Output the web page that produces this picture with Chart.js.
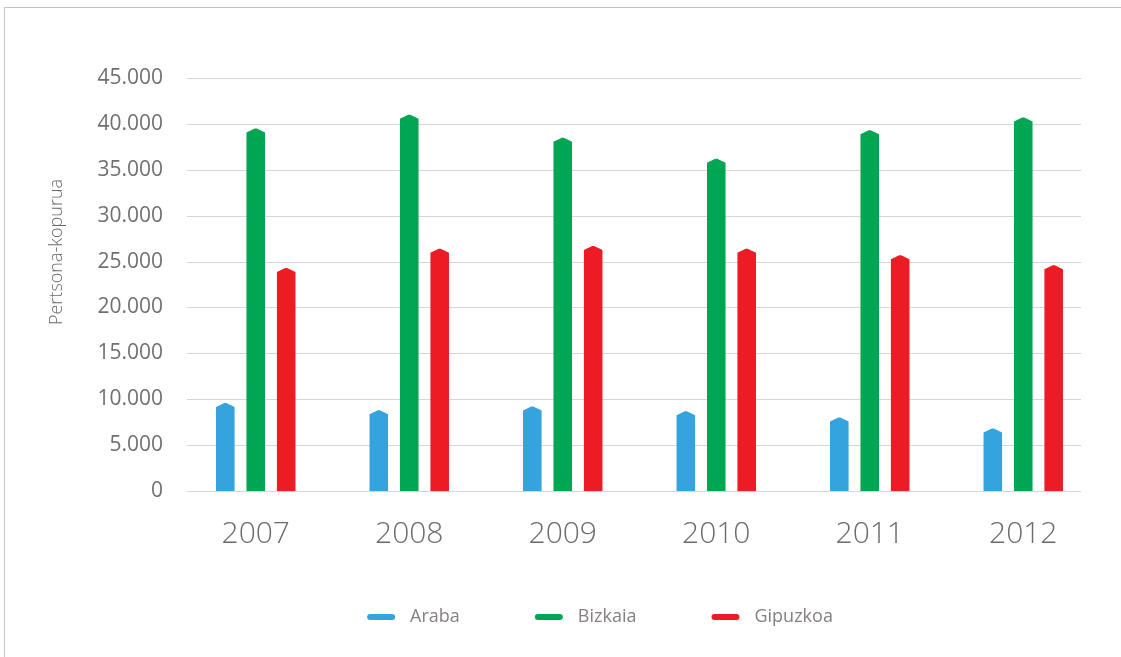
<!DOCTYPE html>
<html>
<head>
<meta charset="utf-8">
<script src="https://cdn.jsdelivr.net/npm/chart.js@4"></script>
<style>
  html, body { margin: 0; padding: 0; background: #fff; overflow: hidden; }
  #frame {
    position: absolute; left: 4px; top: 7px; width: 1140px; height: 680px;
    border: 1px solid #c4c4c4; box-sizing: border-box;
  }
  #wrap { position: absolute; left: 0; top: 0; width: 1121px; height: 657px; }
</style>
</head>
<body>
<div id="frame"></div>
<div id="wrap"><canvas id="chart" width="1121" height="657"></canvas></div>
<script>
// Data
const years = ["2007", "2008", "2009", "2010", "2011", "2012"];
const araba = [9600, 8800, 9200, 8700, 8000, 6800];
const bizkaia = [39500, 41000, 38500, 36200, 39300, 40700];
const gipuzkoa = [24300, 26400, 26700, 26400, 25700, 24600];
const yTitle = "Pertsona-kopurua";
const yMax = 45000;
const yStep = 5000;

const FONT = "'Open Sans', 'Noto Sans', sans-serif";

// thousands with a dot: 45.000
function fmt(v) {
  return String(v).replace(/\B(?=(\d{3})+(?!\d))/g, ".");
}

// grid lines, bar shapes, y title and legend
const customDraw = {
  id: "customDraw",
  beforeDatasetsDraw(chart) {
    const ctx = chart.ctx;
    const y = chart.scales.y;
    const area = chart.chartArea;
    ctx.save();
    ctx.strokeStyle = "#d6d6d6";
    ctx.lineWidth = 1;
    y.ticks.forEach(t => {
      const py = Math.round(y.getPixelForValue(t.value)) + 0.5;
      ctx.beginPath();
      ctx.moveTo(area.left + 8, py);
      ctx.lineTo(area.right - 19, py);
      ctx.stroke();
    });
    ctx.restore();

    // bars with a pointed top
    chart.data.datasets.forEach((ds, i) => {
      const meta = chart.getDatasetMeta(i);
      ctx.save();
      ctx.fillStyle = ds.backgroundColor;
      meta.data.forEach(bar => {
        const p = bar.getProps(["x", "y", "base", "width"], true);
        const l = p.x - p.width / 2, r = p.x + p.width / 2;
        ctx.beginPath();
        ctx.moveTo(l, p.base);
        ctx.lineTo(l, p.y + 4);
        ctx.lineTo(p.x - 1, p.y);
        ctx.lineTo(p.x + 1, p.y);
        ctx.lineTo(r, p.y + 4);
        ctx.lineTo(r, p.base);
        ctx.closePath();
        ctx.fill();
      });
      ctx.restore();
    });
    return false;
  },
  afterDraw(chart) {
    const ctx = chart.ctx;
    ctx.save();
    // y axis title
    ctx.translate(57, 252);
    ctx.rotate(-Math.PI / 2);
    ctx.font = "300 18px " + FONT;
    ctx.fillStyle = "#6a6a6a";
    ctx.textAlign = "center";
    ctx.textBaseline = "middle";
    ctx.fillText(yTitle, 0, 0);
    ctx.restore();

    // legend
    ctx.save();
    ctx.font = "18px " + FONT;
    ctx.textBaseline = "middle";
    const box = 28, gap = 15, spacing = 75;
    const items = chart.data.datasets.map(ds => ({
      text: ds.label, color: ds.backgroundColor,
      w: box + gap + ctx.measureText(ds.label).width
    }));
    const total = items.reduce((s, it) => s + it.w, 0) + spacing * (items.length - 1);
    let x = 600 - total / 2;
    const ly = 617;
    items.forEach(it => {
      ctx.fillStyle = it.color;
      ctx.beginPath();
      ctx.roundRect(x, ly - 3, box, 6, 3);
      ctx.fill();
      ctx.fillStyle = "#857f7f";
      ctx.fillText(it.text, x + box + gap, ly);
      x += it.w + spacing;
    });
    ctx.restore();
  }
};

new Chart(document.getElementById("chart"), {
  type: "bar",
  data: {
    labels: years,
    datasets: [
      { label: "Araba", data: araba, backgroundColor: "#35a3dd" },
      { label: "Bizkaia", data: bizkaia, backgroundColor: "#00a651" },
      { label: "Gipuzkoa", data: gipuzkoa, backgroundColor: "#ed1c24" }
    ]
  },
  options: {
    responsive: false,
    animation: false,
    events: [],
    layout: { padding: { top: 78, right: 21, left: 0, bottom: 0 } },
    datasets: { bar: { categoryPercentage: 0.595, barPercentage: 0.61 } },
    plugins: { legend: { display: false }, tooltip: { enabled: false } },
    scales: {
      x: {
        grid: { display: false, drawTicks: false },
        border: { display: false },
        ticks: { padding: 25, color: "#6b6b6b", font: { family: FONT, size: 30, weight: 300 } },
        afterFit(s) { s.height = 166; }
      },
      y: {
        min: 0,
        max: yMax,
        grid: { display: false, drawTicks: false },
        border: { display: false },
        ticks: {
          stepSize: yStep,
          padding: 16,
          color: "#707070",
          font: { family: FONT, size: 21 },
          callback: v => fmt(v)
        },
        afterFit(s) { s.width = 179; }
      }
    }
  },
  plugins: [customDraw]
});
</script>
</body>
</html>
